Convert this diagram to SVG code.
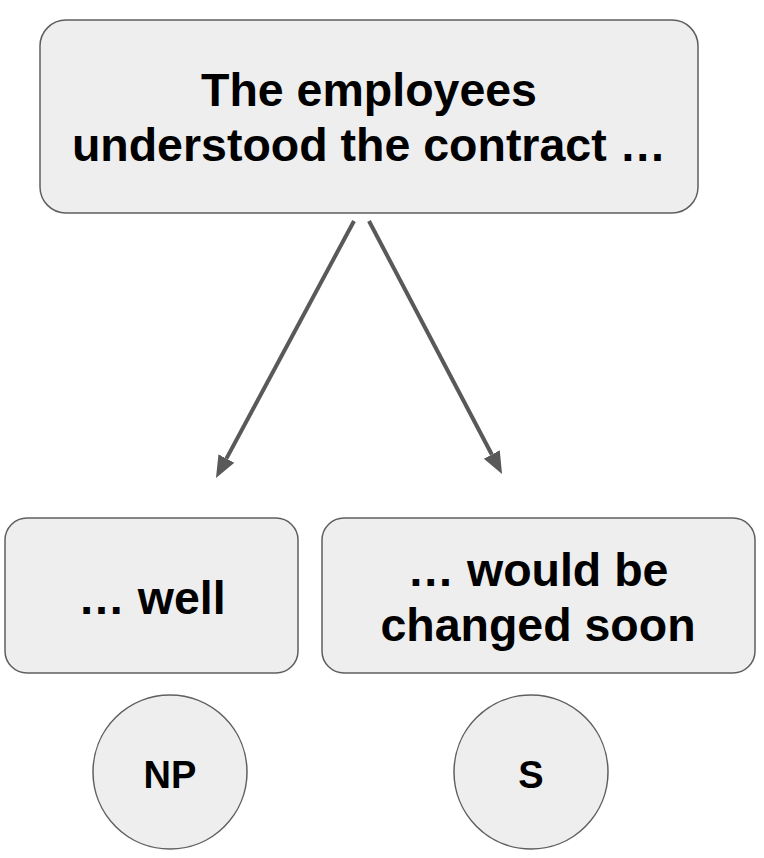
<svg xmlns="http://www.w3.org/2000/svg" width="764" height="858" viewBox="0 0 764 858">
<style>
.box{fill:#eeeeee;stroke:#5f5f5f;stroke-width:1.5}
.t{font-family:"Liberation Sans",Arial,sans-serif;font-weight:bold;fill:#000;text-anchor:middle}
.big{font-size:46.5px}
.small{font-size:38px}
.conn{stroke:#595959;stroke-width:4;fill:none}
</style>
<defs>
<marker id="ah" markerUnits="userSpaceOnUse" markerWidth="24" markerHeight="20" refX="0" refY="9" orient="auto" viewBox="0 0 24 18">
<path d="M0,0 L22,9 L0,18 z" fill="#595959"/>
</marker>
</defs>
<rect width="764" height="858" fill="#ffffff"/>
<g id="connectors">
<line class="conn" x1="354" y1="221" x2="226.4" y2="458.6" marker-end="url(#ah)"/>
<line class="conn" x1="369" y1="221" x2="491.8" y2="454.5" marker-end="url(#ah)"/>
</g>
<g id="node-top">
<rect class="box" x="40" y="20" width="658" height="193" rx="26"/>
<text class="t big" x="369" y="106">The employees</text>
<text class="t big" x="369" y="161">understood the contract …</text>
</g>
<g id="node-well">
<rect class="box" x="5" y="518" width="293" height="155" rx="22"/>
<text class="t big" x="152" y="614">… well</text>
</g>
<g id="node-would">
<rect class="box" x="322" y="518" width="433" height="155" rx="22"/>
<text class="t big" x="538" y="586">… would be</text>
<text class="t big" x="538" y="641">changed soon</text>
</g>
<g id="node-np">
<circle class="box" cx="170" cy="772" r="77"/>
<text class="t small" x="170" y="788">NP</text>
</g>
<g id="node-s">
<circle class="box" cx="531" cy="772" r="77"/>
<text class="t small" x="531" y="788">S</text>
</g>
</svg>
